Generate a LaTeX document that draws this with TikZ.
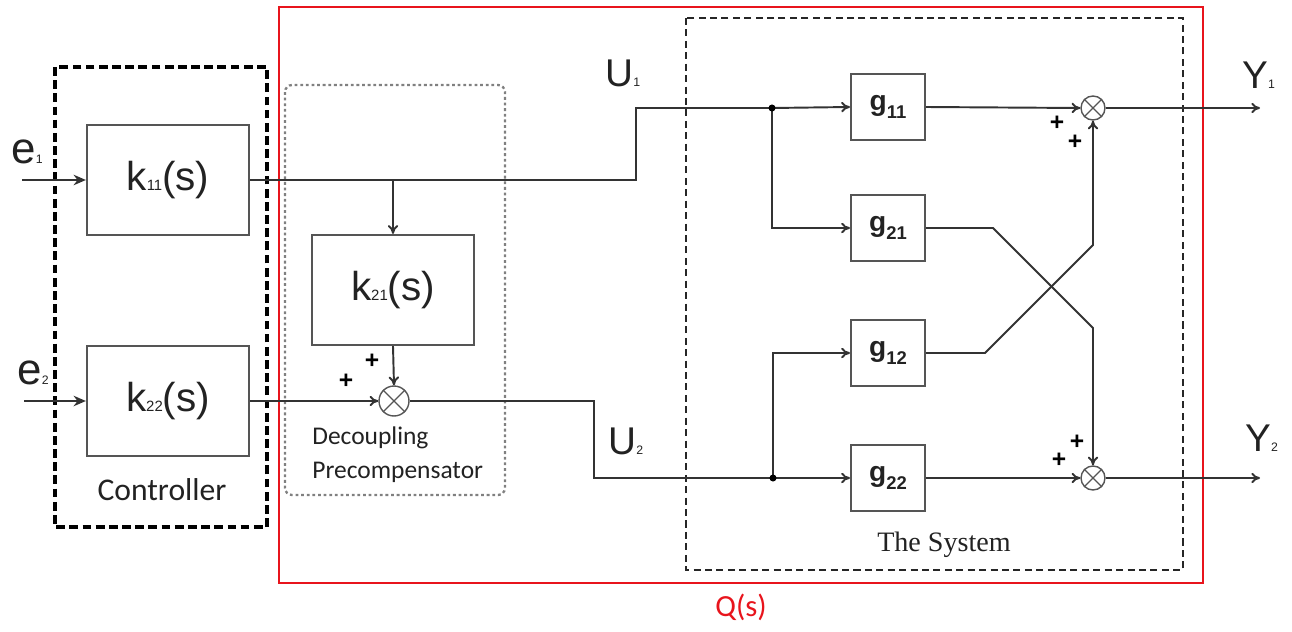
\documentclass[tikz,border=0pt]{standalone}
\usepackage{fontspec}
\setmainfont{Liberation Sans}
\newfontfamily\calib{Carlito}
\newfontfamily\tms{Liberation Serif}
\usetikzlibrary{arrows.meta}
\definecolor{wirecol}{HTML}{333333}
\definecolor{boxgray}{HTML}{555555}
\definecolor{dotgray}{HTML}{808080}
\definecolor{txtcol}{HTML}{222222}
\definecolor{qred}{HTML}{E8141C}
\newcommand{\klab}[1]{{\fontsize{23}{23}\selectfont k}{\fontsize{8.5}{8.5}\selectfont #1}{\fontsize{23}{23}\selectfont (s)}}
\newcommand{\glab}[1]{{\fontsize{16}{16}\selectfont\bfseries g}\raisebox{-4.5pt}{\fontsize{10.5}{10.5}\selectfont\bfseries #1}}
\newcommand{\siglab}[2]{{\fontsize{#2}{#2}\selectfont #1}}
\begin{document}
\begin{tikzpicture}[x=0.02cm,y=-0.02cm,
  blk/.style={draw=boxgray,line width=1.3pt,minimum width=3.24cm,minimum height=2.2cm,inner sep=0pt,text=txtcol},
  gblk/.style={draw=boxgray,line width=1.2pt,minimum width=1.48cm,minimum height=1.32cm,inner sep=0pt,text=txtcol},
  sumbig/.style={circle,draw=boxgray,line width=0.8pt,minimum size=0.6cm,inner sep=0pt},
  sumsm/.style={circle,draw=boxgray,line width=0.8pt,minimum size=0.48cm,inner sep=0pt},
  wire/.style={draw=wirecol,line width=1.1pt},
  arr/.style={wire,-{To[length=5pt,width=6pt]}},
  inarr/.style={wire,-{Stealth[length=7pt,width=6pt]}},
  plus/.style={font=\fontsize{14}{14}\selectfont\bfseries,text=black,inner sep=0pt},
  lab/.style={text=txtcol,inner sep=0pt},
  jdot/.style={circle,fill=black,inner sep=0pt,minimum size=4pt}]
\useasboundingbox (0,0) rectangle (1292,632);

% frames
\draw[qred,line width=0.9pt] (279,7) rectangle (1203,583);
\node[text=qred,font=\calib\fontsize{17.5}{17.5}\selectfont] (q) at (741,607) {Q(s)};
\draw[black,line width=2pt,dash pattern=on 5pt off 2.5pt] (55,67) rectangle (267,527);
\draw[dotgray,line width=1.3pt,dash pattern=on 1.6pt off 1.6pt,rounded corners=4pt] (285,85) rectangle (505,495);
\draw[black!85,line width=1pt,dash pattern=on 4pt off 2.5pt] (686,18) rectangle (1183,570);

% blocks
\node[blk] (k11) at (168,180) {\klab{11}};
\node[blk] (k22) at (168,401) {\klab{22}};
\node[blk] (k21) at (393,290) {\klab{21}};
\node[gblk] (g11) at (888,107) {\glab{11}};
\node[gblk] (g21) at (888,228) {\glab{21}};
\node[gblk] (g12) at (888,353) {\glab{12}};
\node[gblk] (g22) at (888,478) {\glab{22}};

% summing junctions
\node[sumbig] (s0) at (394,401) {};
\node[sumsm] (s1) at (1093,108) {};
\node[sumsm] (s2) at (1093,478) {};
\foreach \s in {s0,s1,s2}{
  \draw[boxgray,line width=0.7pt] (\s.north east) -- (\s.south west) (\s.north west) -- (\s.south east);
}

% labels
\node[lab,font=\calib\fontsize{18}{18}\selectfont] (ctl) at (162,490) {Controller};
\node[lab,anchor=west,font=\calib\fontsize{14.5}{14.5}\selectfont] (dc1) at (312,438) {Decoupling};
\node[lab,anchor=west,font=\calib\fontsize{14.5}{14.5}\selectfont] (dc2) at (312,472) {Precompensator};
\node[lab,font=\tms\fontsize{16}{16}\selectfont] (sys) at (944,545) {The System};
\node[lab,anchor=base west] (e1) at (11,163) {\siglab{e}{25}\siglab{1}{7}};
\node[lab,anchor=base west] (e2) at (17,384) {\siglab{e}{25}\siglab{2}{7}};
\node[lab,anchor=base west] (u1) at (605,86) {\siglab{U}{22}\siglab{1}{7}};
\node[lab,anchor=base west] (u2) at (608,454) {\siglab{U}{22}\siglab{2}{7}};
\node[lab,anchor=base west] (y1) at (1242,88) {\siglab{Y}{22}\siglab{1}{7}};
\node[lab,anchor=base west] (y2) at (1245,451) {\siglab{Y}{22}\siglab{2}{7}};
\node[plus] (p0a) at (372,361) {+};
\node[plus] (p0b) at (346,381) {+};
\node[plus] (p1a) at (1057,123) {+};
\node[plus] (p1b) at (1075,142) {+};
\node[plus] (p2a) at (1077,442) {+};
\node[plus] (p2b) at (1059,460) {+};

% coordinates
\coordinate (e1in) at (22,180);
\coordinate (e2in) at (24,401);
\coordinate (y1out) at (1260,108);
\coordinate (y2out) at (1260,478);
\coordinate (br0) at (393,180);
\coordinate (j1) at (772,108);
\coordinate (j2) at (773,478);

% wires
\draw[inarr] (e1in) -- (k11.west);
\draw[inarr] (e2in) -- (k22.west);
\draw[wire] (k11.east) -- (636,180) -- (636,108) -- (j1);
\draw[arr] (j1) -- (g11.west);
\draw[arr] (br0) -- (k21.north);
\draw[arr] (k21.south) -- (s0.north);
\draw[arr] (k22.east) -- (s0.west);
\draw[wire] (s0.east) -- (594,401) -- (594,478) -- (j2);
\draw[arr] (j2) -- (g22.west);
\draw[arr] (j1) |- (g21.west);
\draw[arr] (j2) |- (g12.west);
\node[jdot] at (j1) {};
\node[jdot] at (j2) {};
\draw[arr] (g11.east) -- (s1.west);
\draw[arr] (g22.east) -- (s2.west);
\draw[arr] (s1.east) -- (y1out);
\draw[arr] (s2.east) -- (y2out);
\draw[arr] (g21.east) -- (993,228) -- (1093,328) -- (s2.north);
\draw[arr] (g12.east) -- (985,353) -- (1093,245) -- (s1.south);
\end{tikzpicture}
\end{document}
